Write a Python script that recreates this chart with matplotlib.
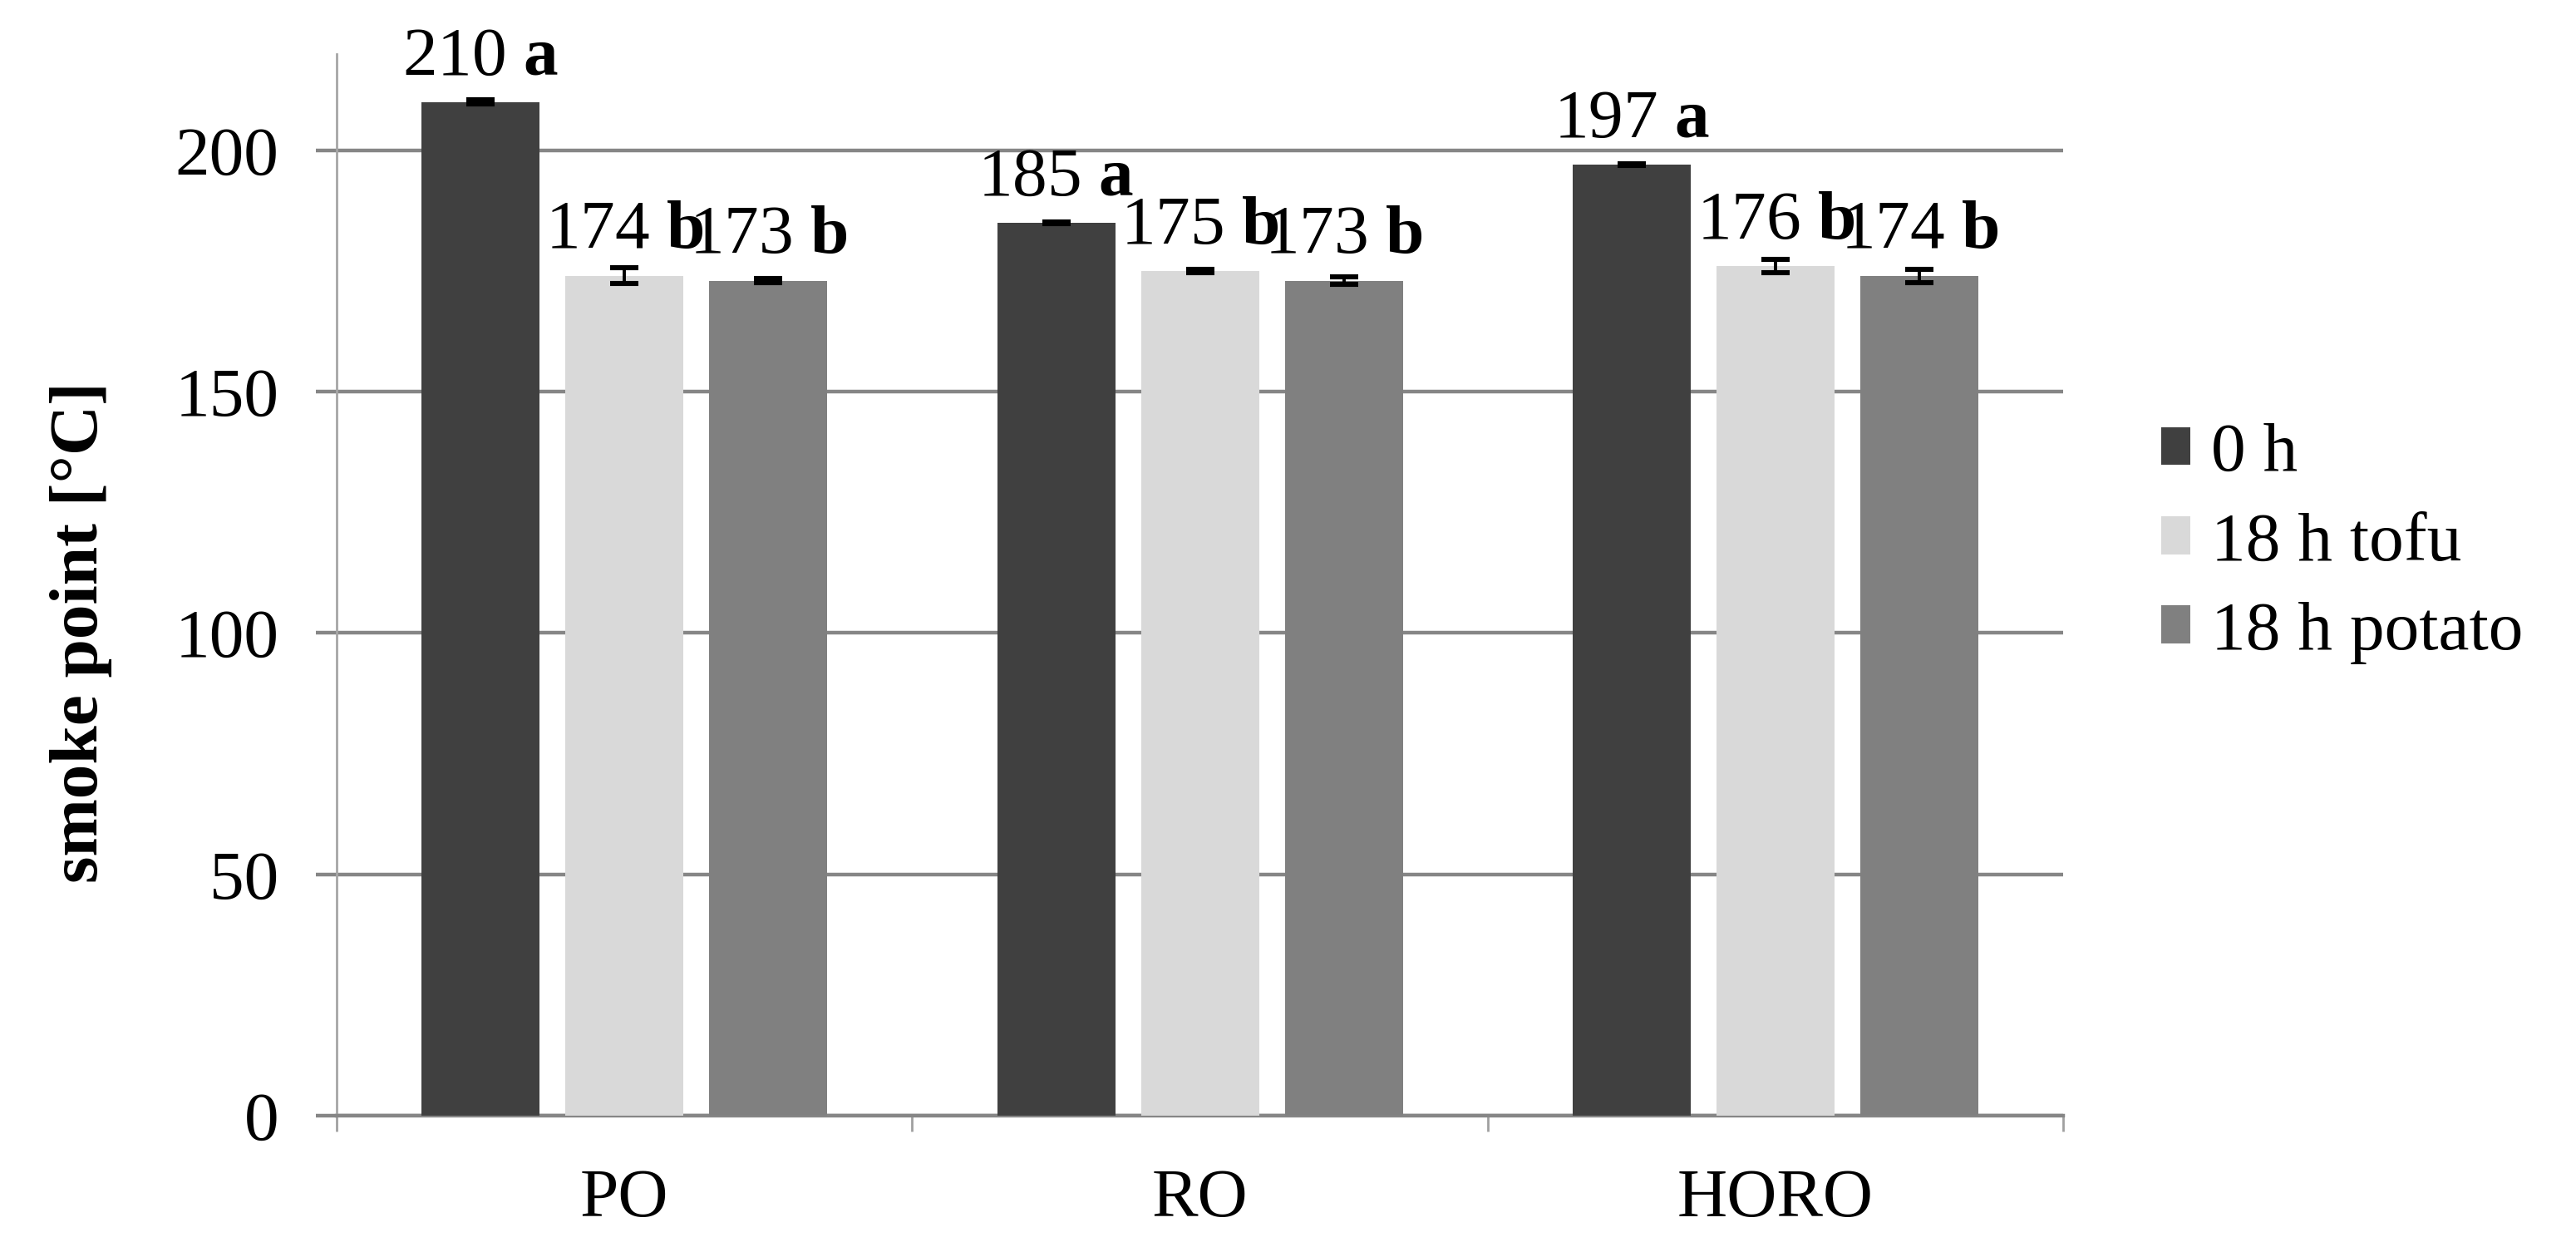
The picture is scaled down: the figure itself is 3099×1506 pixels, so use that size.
import numpy as np
import matplotlib
matplotlib.use("Agg")
import matplotlib.pyplot as plt

plt.rcParams["font.family"] = ["Liberation Serif", "DejaVu Serif"]
plt.rcParams["mathtext.fontset"] = "custom"
plt.rcParams["mathtext.rm"] = "Liberation Serif"
plt.rcParams["mathtext.bf"] = "Liberation Serif:bold"

# data
oils = ["PO", "RO", "HORO"]
series = ["0 h", "18 h tofu", "18 h potato"]
values = [
    [210, 185, 197],
    [174, 175, 176],
    [173, 173, 174],
]
errors = [
    [0.4, 0.2, 0.2],
    [1.6, 0.3, 1.4],
    [0.4, 0.8, 1.4],
]
letters = [
    ["a", "a", "a"],
    ["b", "b", "b"],
    ["b", "b", "b"],
]
colors = ["#404040", "#d9d9d9", "#808080"]

fs = 30
fig = plt.figure(figsize=(15.495, 7.53), dpi=200)
ax = fig.add_axes([0.1307, 0.109, 0.8010 - 0.1307, 0.957 - 0.109])

x = np.arange(len(oils))
width = 0.205
offsets = [-0.25, 0.0, 0.25]

for i, name in enumerate(series):
    xs = x + offsets[i]
    ax.bar(xs, values[i], width, color=colors[i], label=name, zorder=3)
    ax.errorbar(xs, values[i], yerr=errors[i], fmt="none", ecolor="black",
                elinewidth=1.4, capsize=6, capthick=2.2, zorder=4)
    for j in range(len(oils)):
        ax.annotate(r"%d $\mathbf{%s}$" % (values[i][j], letters[i][j]),
                    (xs[j], values[i][j]), xytext=(0, 12),
                    textcoords="offset points", ha="center", va="baseline",
                    fontsize=fs, zorder=5)

ax.set_xlim(-0.5, 2.5)
ax.set_ylim(0, 220)
ax.set_yticks([0, 50, 100, 150, 200])
ax.yaxis.grid(True, color="#868686", linewidth=1.6, zorder=0)
ax.set_axisbelow(True)

ax.set_xticks(x)
ax.set_xticklabels(oils)
ax.set_xticks([-0.5, 0.5, 1.5, 2.5], minor=True)
ax.tick_params(axis="x", which="major", length=0, pad=23, labelsize=fs)
ax.tick_params(axis="x", which="minor", length=7, width=1.0, color="#a0a0a0")
ax.tick_params(axis="y", length=9, width=1.6, color="#868686", pad=16, labelsize=fs)

for s in ["top", "right"]:
    ax.spines[s].set_visible(False)
ax.spines["left"].set_color("#a6a6a6")
ax.spines["left"].set_linewidth(1.0)
ax.spines["bottom"].set_color("#868686")
ax.spines["bottom"].set_linewidth(1.6)

ax.set_ylabel("smoke point [°C]", fontsize=fs, fontweight="bold")
ax.yaxis.set_label_coords(-0.130, 0.455)

fig.legend(loc="center left", bbox_to_anchor=(0.839, 0.566), frameon=False,
           fontsize=fs, handlelength=0.42, handleheight=0.47, handletextpad=0.3,
           labelspacing=0.38, borderpad=0, borderaxespad=0)

fig.savefig("out.png", dpi=200)
